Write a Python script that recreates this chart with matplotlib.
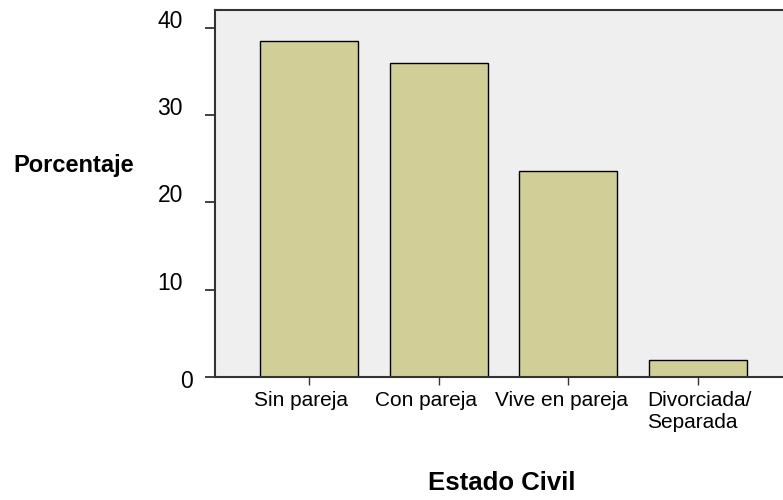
import matplotlib.pyplot as plt
from matplotlib.transforms import ScaledTranslation

plt.rcParams['font.family'] = ['Liberation Sans', 'DejaVu Sans']

categorias = ['Sin pareja', 'Con pareja', 'Vive en pareja', 'Divorciada/\nSeparada']
porcentajes = [38.5, 36.0, 23.6, 1.9]
yticks = [0, 10, 20, 30, 40]

fig = plt.figure(figsize=(7.83, 5), dpi=100)
ax = fig.add_axes([0.2746, 0.246, 0.7254, 0.734])
ax.set_facecolor('#efefef')

x = range(len(categorias))
ax.bar(x, porcentajes, width=0.755, color='#d2ce98', edgecolor='black', linewidth=1.0)

ax.set_xlim(-0.726, len(categorias) - 1 + 0.656)
ax.set_ylim(0, 42.06)

ax.set_xticks(list(x))
ax.set_xticklabels(categorias, fontsize=15, multialignment='left')
ax.set_yticks(yticks)
ax.set_yticklabels([str(v) for v in yticks], fontsize=16.5, va='baseline')

ax.tick_params(axis='y', direction='out', length=7, width=1.3, color='#333333', pad=16)
ax.tick_params(axis='x', direction='out', length=6, width=1.0, color='#333333', pad=4)

# the original renderer nudges some labels; mimic that
x_shift_px = [-8, -13, -7, 1]
for lab, dx in zip(ax.get_xticklabels(), x_shift_px):
    lab.set_transform(lab.get_transform() + ScaledTranslation(dx / 100, 0, fig.dpi_scale_trans))
zero_lab = ax.get_yticklabels()[0]
zero_lab.set_transform(zero_lab.get_transform() + ScaledTranslation(10 / 100, -11 / 100, fig.dpi_scale_trans))

for s in ['left', 'bottom', 'top']:
    ax.spines[s].set_color('#333333')
    ax.spines[s].set_linewidth(1.5)
ax.spines['right'].set_visible(False)

fig.text(74 / 783, 1 - 165 / 500, 'Porcentaje', fontsize=17, fontweight='bold',
         ha='center', va='center')
fig.text(502 / 783, 1 - 483 / 500, 'Estado Civil', fontsize=18.5, fontweight='bold',
         ha='center', va='center')

fig.savefig('out.png', dpi=100)
